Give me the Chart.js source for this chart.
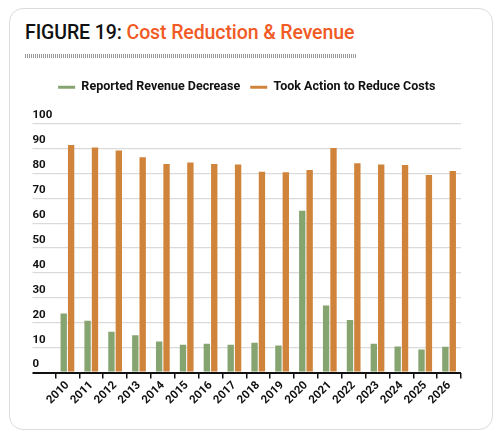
<!DOCTYPE html>
<html>
<head>
<meta charset="utf-8">
<script src="https://cdn.jsdelivr.net/npm/chart.js@4.4.1/dist/chart.umd.min.js"></script>
<style>
    html, body {
        margin: 0;
        padding: 0;
        background: #fff;
        font-family: Roboto, "Open Sans", sans-serif;
    }
    .card {
        position: absolute;
        left: 9px;
        top: 8px;
        width: 482px;
        height: 420px;
        border: 1.5px solid #dcdcdc;
        border-radius: 14px;
        background: #fff;
    }
    .title {
        position: absolute;
        left: 15px;
        top: 14px;
        font-size: 19.5px;
        font-weight: 500;
        letter-spacing: -0.1px;
        color: #111;
        white-space: nowrap;
        line-height: 1;
    }
    .title span {
        color: #f15a24;
    }
    .rule {
        position: absolute;
        left: 15px;
        top: 45px;
        width: 331px;
        height: 4px;
        background: repeating-linear-gradient(90deg, #9a9a9a 0 1px, transparent 1px 2px);
    }
    .chart-box {
        position: absolute;
        left: 0;
        top: 62px;
        width: 482px;
        height: 336px;
    }
</style>
</head>
<body>
<div class="card">
    <div class="title">FIGURE 19: <span>Cost Reduction &amp; Revenue</span></div>
    <div class="rule"></div>
    <div class="chart-box"><canvas id="costChart"></canvas></div>
</div>
<script>
// Data
const years = ['2010', '2011', '2012', '2013', '2014', '2015', '2016', '2017', '2018',
               '2019', '2020', '2021', '2022', '2023', '2024', '2025', '2026'];
const revenueDecrease = [23.7, 20.8, 16.4, 15.0, 12.5, 11.2, 11.6, 11.2, 12.0,
                         10.9, 65.0, 26.9, 21.1, 11.6, 10.5, 9.3, 10.4];
const reduceCosts = [91.4, 90.4, 89.2, 86.4, 83.7, 84.3, 83.7, 83.5, 80.6,
                     80.4, 81.3, 90.2, 84.0, 83.5, 83.3, 79.3, 80.9];
const yTicks = [0, 10, 20, 30, 40, 50, 60, 70, 80, 90, 100];

// Leave room between the legend and the top gridline
const legendGap = {
    id: 'legendGap',
    beforeInit(chart) {
        const fit = chart.legend.fit;
        chart.legend.fit = function() {
            fit.bind(chart.legend)();
            this.height += 20;
        };
    }
};

const ctx = document.getElementById('costChart');

new Chart(ctx, {
    type: 'bar',
    data: {
        labels: years,
        datasets: [{
            label: 'Reported Revenue Decrease',
            data: revenueDecrease,
            backgroundColor: '#86a46f',
            borderWidth: 0,
            categoryPercentage: 0.62,
            barPercentage: 0.86
        }, {
            label: 'Took Action to Reduce Costs',
            data: reduceCosts,
            backgroundColor: '#d0843b',
            borderWidth: 0,
            categoryPercentage: 0.62,
            barPercentage: 0.86
        }]
    },
    plugins: [legendGap],
    options: {
        responsive: true,
        maintainAspectRatio: false,
        animation: false,
        layout: {
            padding: { left: 22.5, right: 31, top: 0, bottom: 0 }
        },
        plugins: {
            legend: {
                position: 'top',
                labels: {
                    color: '#111',
                    boxWidth: 17,
                    boxHeight: 3,
                    padding: 10,
                    font: { family: 'Roboto', size: 12.5, weight: 'bold' }
                }
            },
            tooltip: { enabled: false }
        },
        scales: {
            y: {
                min: 0,
                max: 100,
                afterBuildTicks: axis => {
                    axis.ticks = yTicks.map(v => ({ value: v }));
                },
                afterFit: axis => {
                    axis.width = 23;
                },
                border: { display: false },
                grid: {
                    color: c => c.tick && c.tick.value === 0 ? '#111' : '#dadada',
                    lineWidth: c => c.tick && c.tick.value === 0 ? 2 : 1.2,
                    tickLength: 23,
                    drawTicks: true
                },
                ticks: {
                    color: '#111',
                    padding: 0,
                    crossAlign: 'far',
                    labelOffset: -8,
                    font: { family: 'Roboto', size: 11.5, weight: 'bold' }
                }
            },
            x: {
                offset: true,
                border: { display: false },
                grid: {
                    drawOnChartArea: false,
                    drawTicks: true,
                    tickLength: 6,
                    color: '#111',
                    lineWidth: 1.5,
                    offset: true
                },
                ticks: {
                    color: '#111',
                    autoSkip: false,
                    maxRotation: 45,
                    minRotation: 45,
                    padding: 0,
                    font: { family: 'Roboto', size: 11.5, weight: 'bold' }
                }
            }
        }
    }
});
</script>
</body>
</html>
